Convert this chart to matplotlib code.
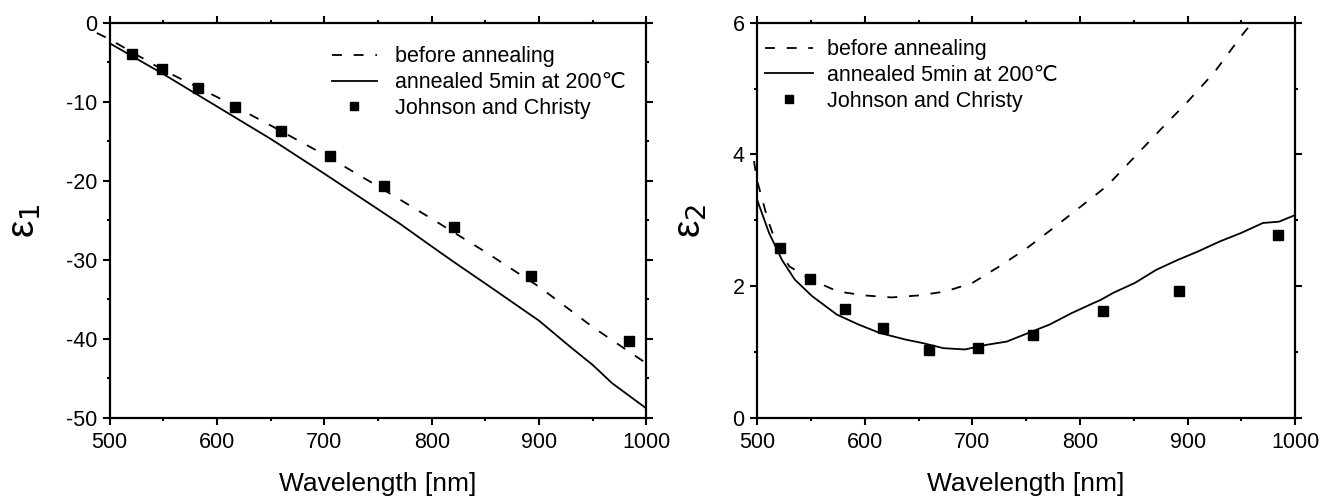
import matplotlib

matplotlib.use("Agg")
import matplotlib.pyplot as plt
from matplotlib.ticker import MultipleLocator

plt.rcParams["axes.unicode_minus"] = False

# ---- data ----
# left panel: eps1
wl_before_1 = [488, 500, 550, 600, 650, 700, 750, 800, 850, 900, 950, 1000]
eps1_before = [-1.3, -2.1, -6.0, -9.4, -13.0, -16.7, -20.7, -24.8, -29.0, -33.4, -38.5, -43.1]
wl_anneal_1 = [500, 550, 600, 650, 700, 750, 770, 800, 822, 850, 900, 929, 950, 968, 1000]
eps1_anneal = [-2.6, -6.5, -10.6, -14.7, -19.1, -23.6, -25.4, -28.3, -30.4, -33.0, -37.7, -41.0, -43.3, -45.6, -48.8]

# right panel: eps2
wl_before_2 = [497, 500, 510, 520, 530, 550, 575, 600, 625, 650, 675, 700, 725, 750,
               775, 800, 825, 850, 875, 900, 925, 950, 960]
eps2_before = [3.9, 3.6, 3.0, 2.55, 2.3, 2.1, 1.92, 1.86, 1.83, 1.86, 1.92, 2.05, 2.3, 2.57,
               2.88, 3.2, 3.52, 3.95, 4.38, 4.8, 5.25, 5.8, 6.0]
wl_anneal_2 = [500, 511, 523, 535, 551, 574, 594, 614, 638, 653, 673, 693, 713, 732, 752,
               772, 792, 812, 819, 831, 851, 871, 891, 910, 930, 950, 970, 985, 1000]
eps2_anneal = [3.31, 2.81, 2.40, 2.10, 1.85, 1.57, 1.42, 1.29, 1.19, 1.14, 1.06, 1.04, 1.11,
               1.16, 1.29, 1.42, 1.59, 1.74, 1.79, 1.90, 2.05, 2.25, 2.40, 2.53, 2.68, 2.81,
               2.96, 2.98, 3.08]

# Johnson and Christy reference points
wl_jc = [521, 549, 582, 617, 660, 705, 756, 821, 892, 984]
eps1_jc = [-3.9, -5.9, -8.2, -10.7, -13.7, -16.9, -20.6, -25.9, -32.1, -40.3]
eps2_jc = [2.58, 2.11, 1.65, 1.37, 1.03, 1.06, 1.26, 1.63, 1.92, 2.78]

LABELS = ["before annealing", "annealed 5min at 200\u2103", "Johnson and Christy"]

FONT = ["Liberation Sans", "DejaVu Sans"]
DASH = (0, (5.5, 6.5))

fig = plt.figure(figsize=(13.34, 5.01), dpi=100)
fig.patch.set_facecolor("white")
ax1 = fig.add_axes([0.0822, 0.1657, 0.4024, 0.789])
ax2 = fig.add_axes([0.5676, 0.1657, 0.4033, 0.789])


def style(ax, ymaj, ymin):
    ax.set_xlim(500, 1000)
    ax.xaxis.set_major_locator(MultipleLocator(100))
    ax.xaxis.set_minor_locator(MultipleLocator(50))
    ax.yaxis.set_major_locator(MultipleLocator(ymaj))
    ax.yaxis.set_minor_locator(MultipleLocator(ymin))
    for s in ax.spines.values():
        s.set_linewidth(1.6)
    ax.tick_params(which="both", direction="out", top=True, right=True, width=1.5)
    ax.tick_params(which="major", length=5, labelsize=15.5)
    ax.tick_params(which="minor", length=2.5)
    ax.tick_params(axis="x", which="major", pad=5)
    ax.tick_params(axis="y", which="major", pad=4)
    for t in ax.get_xticklabels() + ax.get_yticklabels():
        t.set_family(FONT)
    ax.set_xlabel("Wavelength [nm]", fontsize=19, family=FONT)
    ax.xaxis.set_label_coords(0.5, -0.137)


def add_legend(ax, anchor, handlelength, textpad):
    ax.legend(loc="upper left", bbox_to_anchor=anchor, frameon=False,
              prop={"family": FONT, "size": 15.5}, handlelength=handlelength,
              handletextpad=textpad, labelspacing=0.22, borderpad=0,
              borderaxespad=0, markerscale=0.8)


# left
ax1.plot(wl_before_1, eps1_before, "k", ls=DASH, lw=1.3, clip_on=False, label=LABELS[0])
ax1.plot(wl_anneal_1, eps1_anneal, "k-", lw=1.3, label=LABELS[1])
ax1.plot(wl_jc, eps1_jc, "ks", ms=6.8, ls="none", label=LABELS[2])
ax1.set_ylim(-50, 0)
style(ax1, 10, 5)
ax1.set_ylabel("\u03b5$_1$", fontsize=28, family=FONT)
ax1.yaxis.set_label_coords(-0.125, 0.5)
add_legend(ax1, (0.414, 0.94), 2.1, 0.85)

# right
ax2.plot(wl_before_2, eps2_before, "k", ls=DASH, lw=1.3, clip_on=False, label=LABELS[0])
ax2.plot(wl_anneal_2, eps2_anneal, "k-", lw=1.3, label=LABELS[1])
ax2.plot(wl_jc, eps2_jc, "ks", ms=6.8, ls="none", label=LABELS[2])
ax2.set_ylim(0, 6)
style(ax2, 2, 1)
ax2.set_ylabel("\u03b5$_2$", fontsize=28, family=FONT)
ax2.yaxis.set_label_coords(-0.09, 0.5)
add_legend(ax2, (0.0145, 0.958), 2.25, 0.65)

fig.savefig("out.png", dpi=100, facecolor="white")
